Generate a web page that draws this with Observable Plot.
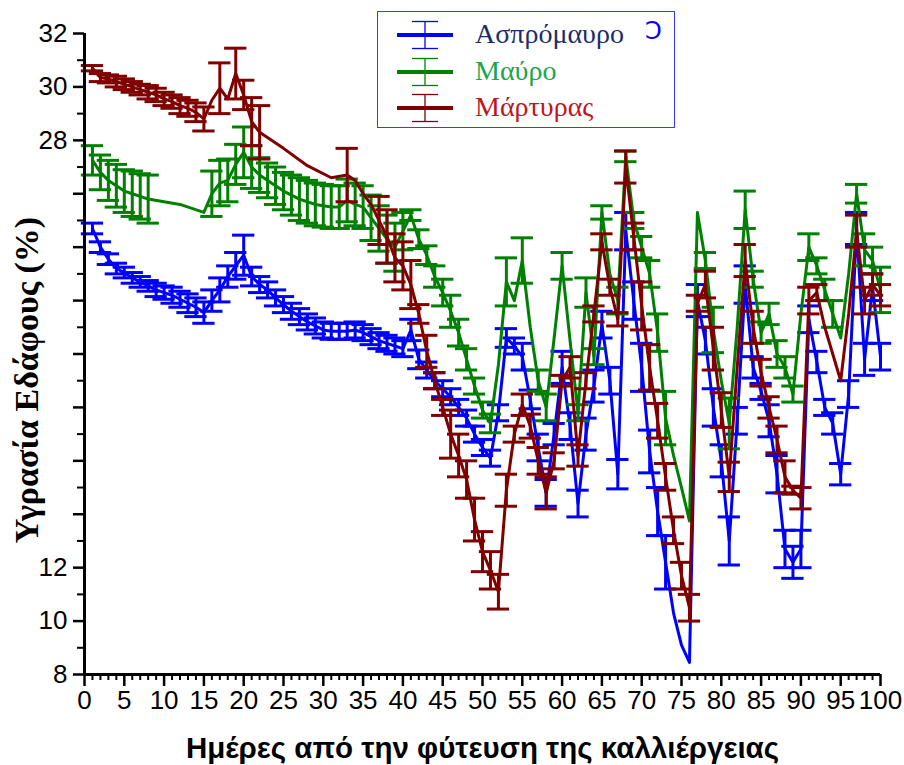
<!DOCTYPE html>
<html><head><meta charset="utf-8">
<script src="https://cdn.jsdelivr.net/npm/d3@7"></script>
<script src="https://cdn.jsdelivr.net/npm/@observablehq/plot@0.6"></script>
<style>
body{margin:0;background:#fff}
#wrap{position:relative;width:904px;height:765px;overflow:hidden}
#legend{position:absolute;left:377px;top:11px;width:298px;height:117px;border:1.5px solid #3a3aff;box-sizing:border-box;background:#fff}
.row{position:absolute;left:0;height:36px;width:100%}
.row svg{position:absolute;left:19px;top:4px}
.row span{position:absolute;left:97px;top:0;font-family:"Liberation Serif","Times New Roman",serif;font-size:28px;line-height:36px;white-space:nowrap}
#mark{position:absolute;left:267px;top:4px;font-family:"DejaVu Sans",sans-serif;font-size:24px;color:#0000ff;line-height:30px}
</style></head><body><div id="wrap"></div>
<script>
// ---------- data ----------
const seriesNames = ["Ασπρόμαυρο", "Μαύρο", "Μάρτυρας"];
const seriesColors = ["#0000ff", "#008000", "#800000"];
const legendTextColors = ["#1c2d6b", "#1aa64b", "#c0141c"];

const blueDays = [1,2,3,4,5,6,7,8,9,10,11,12,13,14,15,16,17,18,19,20,21,22,23,24,25,26,27,28,29,30,31,32,33,34,35,36,37,38,39,40,41,42,43,44,45,46,47,48,49,50,51,52,53,54,55,56,57,58,59,60,61,62,63,64,65,66,67,68,69,70,71,72,73,74,75,76,77,78,79,80,81,82,83,84,85,86,87,88,89,90,91,92,93,94,95,96,97,98,99,100];
const blueMeans = [24.7,24.0,23.55,23.2,23.05,22.85,22.7,22.55,22.4,22.3,
 22.2,22.05,21.9,21.75,21.55,22.0,22.4,22.9,23.3,23.7,
 22.9,22.6,22.4,22.1,21.85,21.6,21.4,21.2,21.05,20.9,
 20.85,20.85,20.85,20.9,20.8,20.65,20.5,20.4,20.3,20.2,
 20.9,19.8,19.4,19.0,18.7,18.4,18.0,17.6,17.0,16.5,
 16.1,17.8,20.6,20.3,19.9,18.3,16.5,14.8,17.0,19.5,
 17.3,14.4,17.0,18.8,21.1,19.0,15.5,24.6,22.0,19.5,
 16.35,14.1,12.2,10.3,9.1,8.45,22.0,20.5,18.0,16.0,
 13.0,17.5,22.6,19.5,18.6,17.5,15.5,12.7,12.2,12.7,
 21.3,19.7,18.0,17.4,15.5,18.5,24.7,19.8,22.5,19.9];
const blueErrors = [0.2,0.2,0.2,0.2,0.2,0.2,0.2,0.2,0.25,0.25,
 0.3,0.3,0.35,0.35,0.4,0.4,0.45,0.4,0.5,0.75,
 0.35,0.3,0.3,0.3,0.3,0.3,0.3,0.3,0.3,0.3,
 0.3,0.3,0.3,0.3,0.3,0.3,0.3,0.3,0.3,0.3,
 0.4,0.35,0.3,0.3,0.3,0.3,0.3,0.3,0.3,0.3,
 0.3,0.3,0.35,0.3,0.5,0.35,0.5,0.5,0.4,0.6,
 0.5,0.5,0.6,0.6,0.5,0.5,0.55,0.7,0.7,0.9,
 0.8,0.9,1.0,0,0,0,0.6,0.5,0.7,0.6,
 0.9,0.5,0.7,0.4,0.3,0.6,0.7,0.7,0.6,0.7,
 0.5,0.4,0.3,0.4,0.4,0.5,0.6,0.6,0.5,0.5];

const greenDays = [1,2,3,4,5,6,7,8,12,15,16,17,18,19,20,21,22,23,24,25,26,27,28,29,30,31,32,33,34,35,36,37,38,39,40,41,42,43,44,45,46,47,48,49,50,51,52,53,54,55,56,57,58,59,60,61,62,63,64,65,66,67,68,69,70,71,72,73,74,75,76,77,78,79,80,81,82,83,84,85,86,87,88,89,90,91,92,93,94,95,96,97,98,99,100];
const greenMeans = [27.25,26.8,26.5,26.3,26.1,26.0,25.9,25.8,25.6,25.3,
 26.0,26.4,26.5,27.1,27.55,27.0,26.7,26.5,26.3,26.1,
 25.95,25.8,25.7,25.6,25.55,25.5,25.5,25.75,25.6,25.5,
 25.1,24.7,24.3,24.0,24.6,25.2,24.3,23.7,22.9,22.3,
 21.6,20.8,19.8,18.8,17.9,17.4,19.6,22.7,22.0,23.5,
 21.0,19.0,18.0,20.6,23.3,20.5,17.8,22.3,19.9,25.3,
 23.0,22.0,27.4,25.0,24.0,23.0,20.8,17.6,16.2,15.0,
 13.75,25.3,23.5,20.9,19.0,17.4,21.0,25.4,22.8,20.8,
 21.5,20.0,19.5,18.5,21.5,24.0,23.3,22.4,21.5,20.6,
 23.0,26.0,23.9,23.5,22.4];
const greenErrors = [0.55,0.65,0.75,0.8,0.8,0.85,0.85,0.9,0,0,
 0.85,0.85,0.8,0.75,0.95,0.8,0.65,0.65,0.7,0.7,
 0.75,0.8,0.8,0.8,0.8,0.8,0.8,0.8,0.8,0.8,
 0.85,0.85,0.9,0.9,0.7,0.2,0.35,0.35,0.4,0.5,
 0.6,0.5,0.4,0.3,0.3,0.35,0,0.9,0,0.85,
 0,0.4,0.5,0,0.5,0,0.3,0.55,0.3,0.25,
 0,0.5,0.2,0.3,0.4,0.5,0.7,1.0,0,0,
 0,0,0.3,0.85,0,0.95,0,0.7,0.3,0.4,
 0.4,0.5,0.4,0.3,0,0.5,0.3,0.4,0.5,0,
 0,0.35,0.6,0.5,0.85];

const redDays = [1,2,3,4,5,6,7,8,9,10,11,12,13,14,15,16,17,18,19,20,21,22,25,28,31,33,34,35,36,37,38,39,40,41,42,43,44,45,46,47,48,49,50,51,52,53,54,55,56,57,58,59,60,61,62,63,64,65,66,67,68,69,70,71,72,73,74,75,76,77,78,79,80,81,82,83,84,85,86,87,88,89,90,91,92,93,94,95,96,97,98,99,100];
const redMeans = [30.7,30.35,30.3,30.2,30.1,30.0,29.9,29.8,29.7,29.55,
 29.45,29.3,29.2,29.05,28.8,29.5,29.95,29.55,30.5,29.7,
 28.7,28.3,27.7,27.05,26.6,26.7,26.5,26.0,25.6,25.0,
 24.4,23.6,23.3,22.6,21.5,20.1,19.0,18.0,17.0,16.2,
 15.3,13.8,12.6,11.9,11.1,14.9,17.0,18.1,17.3,16.0,
 14.8,16.0,19.0,19.5,16.2,19.0,21.5,24.2,22.5,21.3,
 27.0,24.4,21.8,19.5,17.5,15.4,13.4,11.7,10.5,21.9,
 22.6,20.2,17.9,15.4,19.5,23.5,21.0,19.3,18.0,16.8,
 15.4,14.9,14.6,22.0,22.3,21.0,20.0,19.0,21.5,24.6,
 22.0,22.6,22.2];
const redErrors = [0.1,0.15,0.15,0.2,0.2,0.2,0.2,0.25,0.25,0.25,
 0.25,0.3,0.3,0.35,0.45,0,0.95,0,0.95,0.55,
 0.9,1.0,0,0,0,1.0,0,0,0,0.9,
 1.0,0.9,0.9,0.9,0.35,0.6,0.3,0.3,0.9,0.8,
 0.7,0.8,0.75,0.7,0.65,0.6,0.3,0.4,0.45,0.5,
 0.6,0.3,0.2,0.4,0.4,0.3,0.3,0.3,0.3,0.25,
 0.6,0.5,0.9,0.85,0.65,0.5,0.5,0.5,0.5,0.3,
 0.5,0.8,0.65,0.55,0,0.6,0.6,0.5,0.4,0.5,
 0.6,0.15,0.4,0.5,0.3,0,0,0,0,0.6,
 0.5,0.4,0.4];

const xTicks = [0,5,10,15,20,25,30,35,40,45,50,55,60,65,70,75,80,85,90,95,100];
const yTicks = [8,10,12,14,16,18,20,22,24,26,28,30,32];
const yTickLabels = [8,10,12,28,30,32];
const xTitle = "Ημέρες από την φύτευση της καλλιέργειας";
const yTitle = "Υγρασία Εδάφους (%)";

// ---------- build ----------
function rows(days, means, errs, name) {
  return days.map((d, i) => ({x: d, y: means[i], e: errs[i], s: name}));
}
const series = [
  rows(blueDays, blueMeans, blueErrors, seriesNames[0]),
  rows(greenDays, greenMeans, greenErrors, seriesNames[1]),
  rows(redDays, redMeans, redErrors, seriesNames[2])
];
const capHalf = 1.4;
const marks = [];
series.forEach((data, k) => {
  const c = seriesColors[k];
  const bars = data.filter(d => d.e > 0);
  marks.push(Plot.ruleX(bars, {x: "x", y1: d => d.y - d.e, y2: d => d.y + d.e, stroke: c, strokeWidth: 3}));
  marks.push(Plot.ruleY(bars, {y: d => d.y + d.e, x1: d => d.x - capHalf, x2: d => d.x + capHalf, stroke: c, strokeWidth: 3}));
  marks.push(Plot.ruleY(bars, {y: d => d.y - d.e, x1: d => d.x - capHalf, x2: d => d.x + capHalf, stroke: c, strokeWidth: 3}));
  marks.push(Plot.line(data, {x: "x", y: "y", stroke: c, strokeWidth: 3, strokeLinejoin: "round"}));
});

const minorX = d3.range(0, 101, 1).filter(v => v % 5 !== 0);
const minorY = d3.range(9, 32, 2);

marks.push(
  Plot.axisX({ticks: minorX, tickSize: 6, tickFormat: () => "", strokeWidth: 2, label: null}),
  Plot.axisX({ticks: xTicks, tickSize: 12, tickPadding: 4, strokeWidth: 2.5, fontSize: 26, fill: "#000", label: null}),
  Plot.axisY({ticks: minorY, tickSize: 7, tickFormat: () => "", strokeWidth: 2, label: null}),
  Plot.axisY({ticks: yTicks, tickSize: 11, tickPadding: 6, strokeWidth: 2.5, fontSize: 26, fill: "#000", label: null,
              tickFormat: d => yTickLabels.includes(d) ? String(d) : ""}),
  Plot.ruleY([8], {stroke: "#000", strokeWidth: 3}),
  Plot.ruleX([0], {stroke: "#000", strokeWidth: 3}),
  Plot.text([xTitle], {frameAnchor: "bottom", dy: 74, fontSize: 29.5, fontWeight: "bold", textAnchor: "middle",
             fontFamily: "Liberation Sans, Arial, sans-serif", fill: "#000", lineAnchor: "middle"}),
  Plot.text([yTitle], {frameAnchor: "left", dx: -57, dy: 26, rotate: -90, fontSize: 34, fontWeight: "bold", textAnchor: "middle",
             fontFamily: "Liberation Serif, Times New Roman, serif", fill: "#000", lineAnchor: "middle"})
);

const chart = Plot.plot({
  width: 904, height: 765,
  marginLeft: 84, marginRight: 24, marginTop: 33, marginBottom: 91,
  x: {domain: [0, 100], axis: null},
  y: {domain: [8, 32], axis: null},
  style: {fontFamily: "Liberation Sans, Arial, sans-serif", fontSize: "26px", color: "#000", background: "#fff", overflow: "visible"},
  marks
});
const wrap = document.getElementById("wrap");
wrap.appendChild(chart);

// ---------- legend ----------
const legend = document.createElement("div");
legend.id = "legend";
const rowTops = [4, 41, 77];
seriesNames.forEach((name, k) => {
  const r = document.createElement("div");
  r.className = "row";
  r.style.top = rowTops[k] + "px";
  const c = seriesColors[k];
  r.innerHTML = `<svg width="58" height="30" viewBox="0 0 58 30">
    <line x1="0" x2="56" y1="15" y2="15" stroke="${c}" stroke-width="4"/>
    <line x1="28" x2="28" y1="1.5" y2="28.5" stroke="${c}" stroke-width="1.3"/>
    <line x1="15" x2="41" y1="1.5" y2="1.5" stroke="${c}" stroke-width="1.3"/>
    <line x1="15" x2="41" y1="28.5" y2="28.5" stroke="${c}" stroke-width="1.3"/>
  </svg><span style="color:${legendTextColors[k]}">${name}</span>`;
  legend.appendChild(r);
});
const m = document.createElement("div");
m.id = "mark";
m.textContent = "Ɔ";
legend.appendChild(m);
wrap.appendChild(legend);
</script></body></html>
